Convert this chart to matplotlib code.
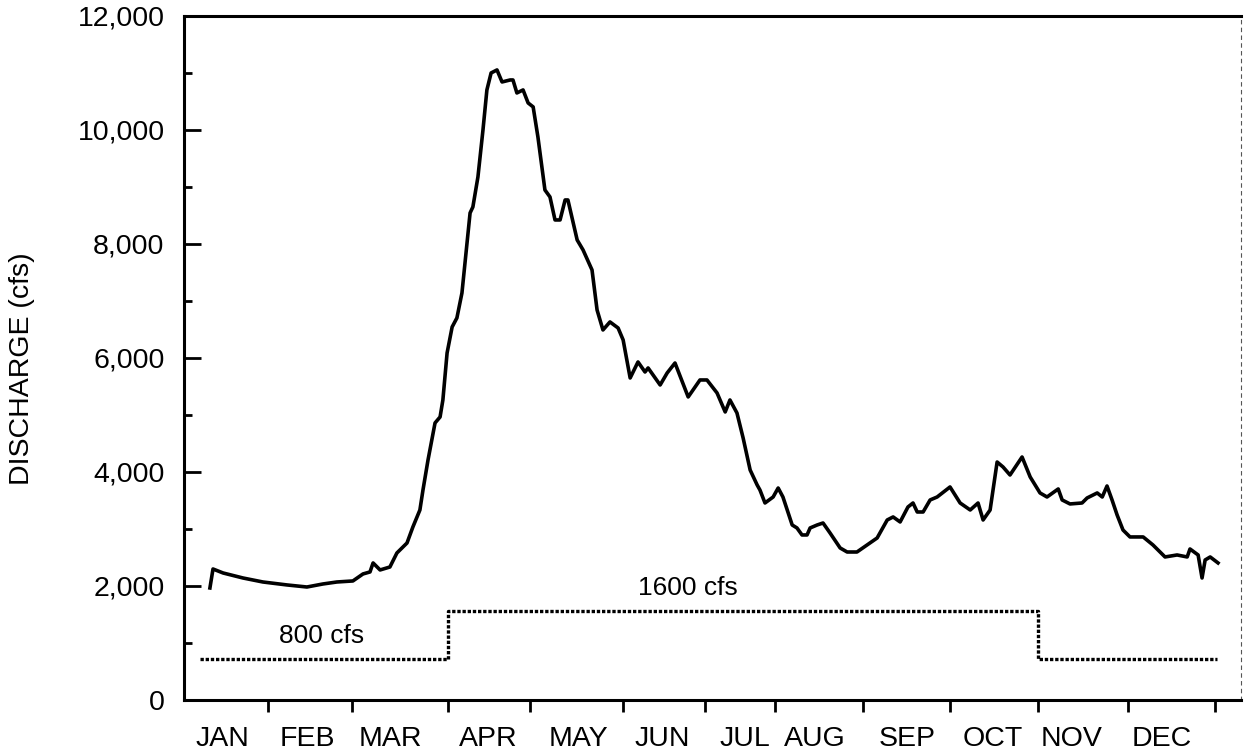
import matplotlib
matplotlib.use('Agg')
import matplotlib.pyplot as plt
from matplotlib.ticker import MultipleLocator, FuncFormatter, FixedLocator

plt.rcParams['font.family'] = ['Liberation Sans', 'DejaVu Sans']

# daily discharge trace (day of year, cfs)
day = [6.4, 7.5, 11.1, 18.2, 25.3, 33.9, 41.0, 46.7, 51.7, 57.4,
       61.0, 63.5, 64.6, 67.1, 70.6, 73.1, 76.7, 78.8, 81.3, 82.4,
       84.2, 86.7, 88.5, 89.5, 91.0, 92.8, 94.5, 96.3, 99.2, 100.2,
       102.0, 103.8, 105.2, 106.7, 108.8, 110.6, 113.5, 114.5, 115.9, 118.1,
       119.9, 121.7, 123.4, 125.9, 127.7, 129.5, 131.3, 133.1, 134.1, 137.4,
       139.5, 142.7, 144.5, 146.6, 149.1, 152.0, 153.8, 156.3, 159.1, 161.6,
       162.7, 167.0, 169.5, 172.3, 177.0, 181.2, 183.7, 187.3, 190.2, 191.9,
       194.4, 196.6, 199.1, 201.6, 202.6, 204.4, 207.3, 209.1, 210.8, 214.1,
       215.8, 217.6, 219.4, 220.5, 223.0, 225.1, 227.6, 231.2, 233.7, 237.2,
       240.8, 244.4, 248.0, 250.1, 252.6, 255.4, 257.2, 258.7, 260.8, 263.3,
       265.8, 270.4, 274.0, 277.6, 280.4, 282.2, 284.7, 287.2, 289.3, 291.8,
       296.1, 299.0, 302.5, 305.0, 309.0, 310.4, 313.2, 317.5, 319.3, 322.9,
       324.7, 326.4, 328.2, 330.0, 332.1, 334.6, 339.3, 342.8, 347.1, 351.4,
       355.0, 356.0, 358.9, 360.3, 361.4, 363.2, 366.0]
cfs = [1965, 2298, 2228, 2140, 2070, 2018, 1982, 2035, 2070, 2088,
       2211, 2246, 2404, 2281, 2333, 2579, 2754, 3035, 3333, 3684,
       4211, 4860, 4965, 5263, 6088, 6544, 6702, 7140, 8544, 8649,
       9175, 10000, 10702, 11000, 11053, 10842, 10877, 10877, 10649, 10702,
       10474, 10404, 9877, 8947, 8825, 8421, 8421, 8772, 8772, 8070,
       7895, 7544, 6842, 6491, 6632, 6526, 6316, 5649, 5930, 5754,
       5825, 5526, 5737, 5912, 5316, 5614, 5614, 5386, 5053, 5263,
       5035, 4596, 4035, 3772, 3684, 3456, 3561, 3719, 3561, 3070,
       3018, 2895, 2895, 3018, 3070, 3105, 2930, 2667, 2596, 2596,
       2719, 2842, 3158, 3211, 3123, 3386, 3456, 3298, 3298, 3509,
       3561, 3737, 3456, 3333, 3456, 3158, 3333, 4175, 4088, 3947,
       4263, 3912, 3632, 3561, 3702, 3509, 3439, 3456, 3544, 3632,
       3561, 3754, 3509, 3246, 2982, 2860, 2860, 2719, 2509, 2544,
       2509, 2649, 2544, 2140, 2456, 2509, 2404]

# minimum flow requirement (step)
step_day = [2.9, 91.3, 301.8, 365.7]
step_cfs = [720, 1560, 720, 720]

months = ['JAN', 'FEB', 'MAR', 'APR', 'MAY', 'JUN',
          'JUL', 'AUG', 'SEP', 'OCT', 'NOV', 'DEC']
month_edges = [27.1, 57.1, 91.3, 120.6, 153.8, 183.0,
               208.0, 239.4, 270.4, 301.8, 333.9, 365.0]
month_mid = [10.7, 41.0, 70.6, 105.6, 137.7, 167.7,
             197.3, 222.3, 255.1, 285.8, 313.9, 346.1]

fig = plt.figure(figsize=(12.44, 7.56), dpi=100)
ax = fig.add_axes([0.1479, 0.0741, 0.8497, 0.9048])

ax.plot(day, cfs, color='black', lw=2.6, solid_joinstyle='round')
ax.step(step_day, step_cfs, where='post', color='black', lw=2.4,
        linestyle=(0, (1.0, 0.55)))

ax.text(46.4, 1123, '800 cfs', fontsize=19, ha='center', va='center')
ax.text(177, 1965, '1600 cfs', fontsize=19, ha='center', va='center')

ax.set_xlim(-2.85, 374.2)
ax.set_ylim(0, 12000)

# y axis: inward ticks, labels every 2000
ax.yaxis.set_major_locator(MultipleLocator(2000))
ax.yaxis.set_minor_locator(MultipleLocator(1000))
ax.yaxis.set_major_formatter(FuncFormatter(lambda v, p: f'{int(v):,}'))
ax.tick_params(axis='y', which='major', direction='in', length=12, width=2,
               labelsize=20.5, pad=14)
ax.tick_params(axis='y', which='minor', direction='in', length=6, width=2)

# x axis: ticks at month boundaries, names between them
ax.xaxis.set_major_locator(FixedLocator(month_edges))
ax.xaxis.set_minor_locator(FixedLocator(month_mid))
ax.set_xticklabels([], minor=False)
ax.set_xticklabels(months, minor=True)
ax.tick_params(axis='x', which='major', direction='out', length=8.5, width=2,
               labelbottom=False)
ax.tick_params(axis='x', which='minor', length=0, labelsize=20.5, pad=19)

for s in ['left', 'top', 'bottom']:
    ax.spines[s].set_linewidth(2.2)
ax.spines['right'].set_linewidth(0.8)
ax.spines['right'].set_linestyle((0, (3, 4)))
ax.spines['right'].set_color('#555555')

fig.text(22 / 1244, 1 - 369 / 756, 'DISCHARGE (cfs)', rotation=90,
         fontsize=20.5, ha='center', va='center')

fig.savefig('out.png', dpi=100)
